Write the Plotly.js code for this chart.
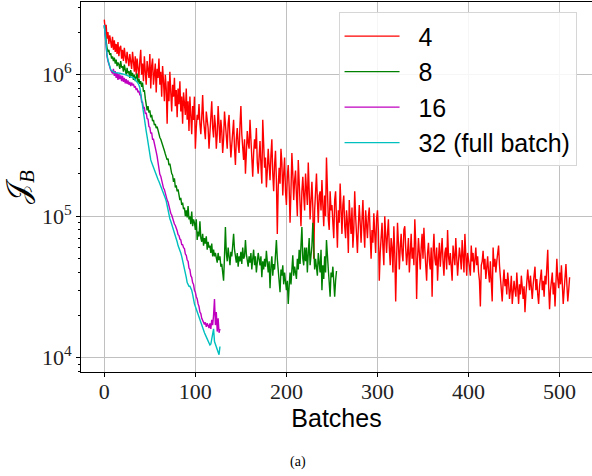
<!DOCTYPE html>
<html><head><meta charset="utf-8">
<script src="https://cdn.plot.ly/plotly-3.0.1.min.js"></script>
<style>html,body{margin:0;padding:0;background:#fff}#chart{width:592px;height:476px}</style>
</head><body><div id="chart"></div>
<script>
const seriesNames = ['4', '8', '16', '32 (full batch)'];
const seriesColors = ['#ff0000', '#008000', '#bf00bf', '#00bfbf'];

// values in thousands
const red_k = [
2450,2050,2250,1800,2000,1650,1900,1750,1550,1850,
1500,1750,1450,1650,1400,1700,1350,1550,1600,1300,
1500,1250,1550,1350,1200,1450,1300,1150,1400,1250,
1100,1450,1200,1050,1350,1000,1300,1150,950,1250,
1500,1000,1200,900,1350,1050,850,1250,1100,950,
1400,800,1150,1300,850,1000,1200,750,1100,950,
1300,850,1050,700,1150,900,650,1000,800,450,
900,650,1050,750,550,850,700,950,600,780,
500,800,620,900,550,700,450,750,600,520,
800,480,650,400,700,550,380,600,480,700,
300,420,520,480,620,450,380,500,720,480,
400,350,550,480,420,300,380,450,650,420,
360,520,440,300,380,600,420,330,480,400,
280,350,550,420,380,300,450,520,350,260,
320,400,480,300,230,350,420,320,280,440,
600,380,300,250,350,200,280,400,330,300,
480,320,260,190,280,350,300,420,240,200,
260,340,230,170,480,300,220,260,160,210,
300,230,180,270,350,200,150,230,290,180,
75,160,220,170,300,240,140,200,260,150,
120,190,230,160,90,150,280,200,130,180,
210,140,100,250,170,130,85,150,190,140,
110,200,160,120,240,150,95,130,175,115,
50,110,160,200,130,90,140,150,110,180,
120,85,140,100,260,130,95,80,150,110,
120,90,70,130,150,95,60,110,90,170,
100,75,120,140,85,70,110,90,55,130,
95,75,115,60,80,150,100,70,55,85,
120,90,65,95,130,80,60,110,85,70,
100,115,75,50,80,65,105,75,55,95,
110,80,35,55,70,90,60,45,100,65,
55,75,95,60,45,70,60,40,85,55,
25,50,90,65,42,60,75,55,48,80,
85,60,45,55,70,40,55,75,50,60,
45,95,65,26,50,70,55,42,60,75,
50,83,58,45,35,55,65,48,42,60,
27,55,75,50,45,60,35,50,65,44,
55,70,48,38,55,60,42,80,52,45,
55,40,35,62,50,45,70,50,38,48,
60,52,42,68,50,40,75,48,38,55,
50,44,38,62,48,55,40,48,60,45,
52,40,35,23,45,48,57,42,50,36,
45,52,40,34,48,38,25,60,44,50,
40,48,56,62,45,36,30,25,34,42,
32,36,28,40,34,26,30,38,24,32,
35,30,27,40,32,24,33,28,38,30,
26,32,21,28,34,42,35,30,38,28,
26,33,38,44,30,36,28,24,32,38,
42,30,35,27,38,33,44,58,32,22,
30,36,40,28,34,23,38,50,36,31,
40,33,45,35,24,30,42,46,33,25,30,37
];

const green_k = [
2200,1900,1650,1550,1450,1500,1380,1420,1300,1350,
1250,1320,1200,1280,1150,1220,1180,1100,1250,1120,
1150,1050,1180,1080,1000,1120,1020,1060,950,1080,
980,1030,920,1000,900,960,1020,880,940,860,
900,820,880,760,780,680,620,560,600,540,
560,500,520,470,480,440,450,420,430,400,
380,360,350,330,320,300,290,275,265,250,
255,230,235,210,200,195,175,185,160,165,
150,155,140,130,135,120,125,112,115,100,
110,98,118,95,100,88,108,85,95,90,
80,95,68,78,72,92,70,66,75,62,
70,64,72,58,66,60,62,55,64,52,
58,52,55,50,47,55,49,52,44,46,
40,35,52,84,55,48,60,50,45,56,
52,62,75,58,50,47,55,44,52,48,
56,46,60,50,52,68,54,48,44,52,
47,55,42,50,58,45,52,40,48,55,
50,45,52,37,48,42,50,44,57,46,
40,48,31,44,52,38,46,42,55,68,
50,40,36,29,42,38,45,33,40,36,
30,35,24,32,40,33,48,53,38,44,
40,36,50,42,58,46,62,84,50,45,
60,48,60,40,55,70,45,52,62,90,
58,42,50,45,38,55,46,40,58,30,
45,36,52,40,68,48,42,34,27,40,
37,44,32,27,35,41
];

const magenta_k = [
2250,1800,1500,1350,1250,1180,1120,1080,1050,1020,
1100,980,1060,950,1030,920,1010,930,990,900,
980,890,950,870,930,860,910,850,890,830,
880,840,860,810,830,780,800,750,770,720,
720,640,640,580,585,530,540,490,485,430,
425,385,390,350,350,320,315,285,265,235,
220,198,192,178,172,158,154,143,139,130,
126,117,113,105,102,96,94,88,86,80,
79,74,73,69,68,63,63,60,59,54,
53,49,48,43,42,38,37,34,33,30,
29,27,26,24,23,21,20.5,19,18.5,17.8,
17.2,17.8,16.5,17.5,16.8,16.2,17.5,16,18.5,17,
20,26,17,21,15.3,19,15,16
];

const cyan_k = [
2250,1800,1550,1380,1270,1190,1130,1090,1070,1055,
1045,1040,1035,1035,1030,1030,1025,1025,1020,1020,
1015,1010,1005,1000,995,990,985,980,975,972,
970,960,950,940,925,910,890,870,845,810,
740,660,590,535,480,440,400,365,330,295,
262,250,240,230,220,210,200,194,188,182,
176,170,164,158,152,146,140,134,128,118,
108,100,96,92,88,85,81,77,73,69,
66,62,60,58,55,52,49,46,43,40,
37,34,33,32,32,31,30,28,25,24,
23,22,21,20,19,18,17.5,17,16,15.5,
15,14.5,14,13.5,13,12.8,12.3,12.5,13.5,14.5,
16,13,12.5,12,11.5,11,10.5,12
];

const xTickVals = [0, 100, 200, 300, 400, 500];
const yTickVals = [1e4, 1e5, 1e6];
const yTickText = ['10<sup>4</sup>', '10<sup>5</sup>', '10<sup>6</sup>'];

const allSeries = [red_k, green_k, magenta_k, cyan_k];
const traces = allSeries.map((vals, s) => ({
  type: 'scatter', mode: 'lines',
  x: vals.map((_, i) => i),
  y: vals.map(v => v * 1000),
  name: '\u00a0\u00a0' + seriesNames[s],
  line: {color: seriesColors[s], width: 1.4}
}));

const minorVals = [];
for (let e = 3; e <= 6; e++) for (let m = 2; m <= 9; m++) minorVals.push(m * Math.pow(10, e));

const serif = '"Liberation Serif", "DejaVu Serif", serif';
const sans = '"Liberation Sans", Arial, sans-serif';

const layout = {
  width: 592, height: 476,
  margin: {l: 81, r: 0, t: 2, b: 104},
  paper_bgcolor: '#fff', plot_bgcolor: '#fff',
  showlegend: true,
  xaxis: {
    range: [-25.6, 535.6],
    tickmode: 'array', tickvals: xTickVals,
    ticks: 'outside', ticklen: 4, tickcolor: '#000',
    ticklabelstandoff: -4,
    showline: true, linecolor: '#000', linewidth: 1, mirror: true,
    showgrid: true, gridcolor: '#c0c0c0', gridwidth: 1,
    zeroline: false,
    tickfont: {family: serif, size: 22, color: '#222'},
    title: {text: 'Batches', font: {family: sans, size: 25, color: '#000'}, standoff: 2}
  },
  yaxis: {
    type: 'log',
    range: [3.899, 6.514],
    tickmode: 'array', tickvals: yTickVals, ticktext: yTickText,
    ticks: 'outside', ticklen: 4, tickcolor: '#000',
    minor: {tickmode: 'array', tickvals: minorVals, ticks: 'outside', ticklen: 2, tickcolor: '#000', showgrid: false},
    showline: true, linecolor: '#000', linewidth: 1,
    showgrid: true, gridcolor: '#c0c0c0', gridwidth: 1,
    zeroline: false,
    tickfont: {family: serif, size: 22, color: '#222'},
    title: {text: '𝒥<sub><i>B</i></sub>', font: {family: serif, size: 30, color: '#000'}, standoff: 4}
  },
  legend: {
    x: 0.504, y: 0.972, xanchor: 'left', yanchor: 'top',
    bgcolor: 'rgba(255,255,255,0.85)', bordercolor: '#d6d6d6', borderwidth: 1,
    font: {family: sans, size: 25, color: '#000'},
    itemwidth: 55
  },
  annotations: [{
    text: '(a)', xref: 'paper', yref: 'paper',
    x: (298 - 81) / 511, y: (372 - 462) / 370,
    xanchor: 'center', yanchor: 'middle', showarrow: false,
    font: {family: serif, size: 14, color: '#000'}
  }]
};

Plotly.newPlot('chart', traces, layout, {displayModeBar: false, staticPlot: true});
</script>
</body></html>
